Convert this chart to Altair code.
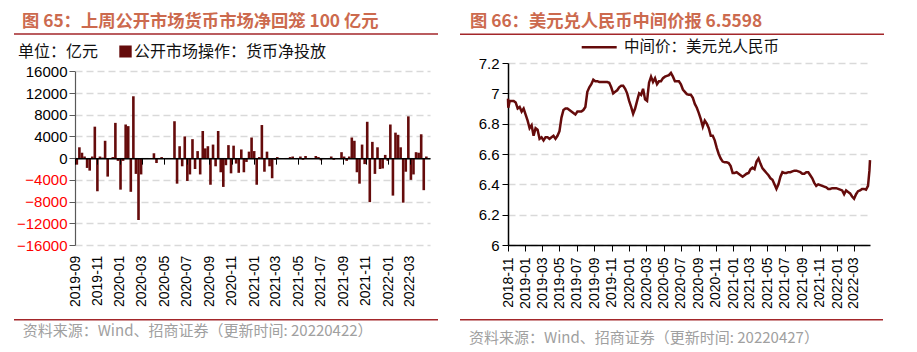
import altair as alt
import pandas as pd

# ---------------- data: left panel (weekly OMO net injection, 亿元) ----------------
omo_first_week = "2019-09-06"
omo_net = [
    -1200, 2000, 1000, 300, -1800, -2300, 300, 5800, -6100, 300,
    100, 3200, -3400, 0, 200, 6500, -500, -5800, -500, 6200,
    5900, -6200, 11400, -2900, -11400, -3000, 0, 0, 0, 0,
    900, -900, 0, 200, 0, 0, 0, 0, 6800, -4700,
    2200, -1500, 4000, -4200, -3000, 3500, -2000, 1300, -3000, 5000,
    1800, 2200, -4900, 2500, -1500, 5000, -2600, -5300, -1300, 2400,
    -2800, 2300, -1000, -2700, 1600, -2600, -700, 1200, 3800, 1300,
    -4900, 200, 6100, -2500, 1200, -1500, -3700, -300, 200, 0,
    0, 0, 0, 200, 300, 0, 0, 300, -300, 400,
    0, 0, 0, 400, 200, -400, 0, 0, 0, 300,
    -300, 0, 0, 1100, 300, -500, 300, 3800, 3200, -2600,
    -4700, 2500, -1100, 6700, -8100, 3000, -2900, 2000, -2000, -1900,
    600, -500, 6200, -6900, 4700, 4300, 2000, -8200, -2500, 7700,
    -4000, -3000, 1100, 1000, 4400, -5900, 300, -100,
]
omo_ticks_y = [-16000, -12000, -8000, -4000, 0, 4000, 8000, 12000, 16000]

# ---------------- data: right panel (USD/CNY central parity) ----------------
fx_head_dates = ["2018-11-01", "2018-11-02"]
fx_head = [6.965, 6.905]
fx_weekly_first = "2018-11-07"
fx_weekly = [
    6.95, 6.95, 6.95, 6.94, 6.90, 6.91, 6.88, 6.90, 6.86, 6.82,
    6.77, 6.79, 6.72, 6.77, 6.76, 6.70, 6.71, 6.69, 6.71, 6.71,
    6.70, 6.71, 6.72, 6.70, 6.72, 6.75, 6.84, 6.89, 6.90, 6.90,
    6.89, 6.88, 6.87, 6.86, 6.88, 6.88, 6.88, 6.89, 6.91, 7.01,
    7.04, 7.06, 7.09, 7.08, 7.08, 7.075, 7.075, 7.075, 7.075, 7.075,
    7.07, 7.04, 7.00, 7.01, 7.02, 7.04, 7.05, 7.05, 7.03, 7.00,
    6.95, 6.91, 6.865, 6.90, 6.95, 7.00, 6.99, 7.03, 6.96, 6.95,
    7.07, 7.11, 7.075, 7.10, 7.06, 7.08, 7.08, 7.10, 7.11, 7.115,
    7.12, 7.135, 7.11, 7.08, 7.08, 7.08, 7.06, 7.025, 7.01, 6.995,
    6.99, 6.99, 6.97, 6.93, 6.905, 6.87, 6.83, 6.78, 6.82, 6.80,
    6.77, 6.72, 6.72, 6.69, 6.64, 6.60, 6.57, 6.55, 6.545, 6.545,
    6.54, 6.52, 6.475, 6.475, 6.48, 6.47, 6.46, 6.45, 6.46, 6.47,
    6.475, 6.50, 6.51, 6.50, 6.55, 6.57, 6.535, 6.505, 6.49, 6.475,
    6.46, 6.44, 6.43, 6.40, 6.37, 6.40, 6.45, 6.48, 6.475, 6.475,
    6.48, 6.48, 6.485, 6.49, 6.49, 6.485, 6.48, 6.47, 6.47, 6.48,
    6.48, 6.46, 6.44, 6.41, 6.39, 6.40, 6.395, 6.39, 6.385, 6.38,
    6.37, 6.37, 6.375, 6.375, 6.375, 6.37, 6.365, 6.36, 6.335, 6.36,
    6.35, 6.34, 6.32, 6.305, 6.335, 6.355, 6.36, 6.37, 6.37, 6.365,
    6.39,
]
fx_tail_dates = ["2022-04-22", "2022-04-25", "2022-04-27"]
fx_tail = [6.43, 6.49, 6.5598]
fx_ticks_y = [6.0, 6.2, 6.4, 6.6, 6.8, 7.0, 7.2]

# ---------------- texts ----------------
title_left = "图 65：上周公开市场货币市场净回笼 100 亿元"
title_right = "图 66：美元兑人民币中间价报 6.5598"
unit_left = "单位：亿元"
legend_left = "公开市场操作：货币净投放"
legend_right = "中间价：美元兑人民币"
source_left = "资料来源：Wind、招商证券（更新时间: 20220422）"
source_right = "资料来源：Wind、招商证券（更新时间: 20220427）"

# ---------------- styles ----------------
FONT_CJK = "Noto Sans CJK SC"
FONT_NUM = "Liberation Sans"
TITLE_COLOR = "#CC6A4E"
RULE_COLOR = "#A3262A"
DARK_RED = "#650B0B"
GRID = "#D9D9D9"
SRC_GRAY = "#A0A0A0"

omo_df = pd.DataFrame({
    "date": pd.date_range(omo_first_week, periods=len(omo_net), freq="7D"),
    "net": omo_net,
})
fx_dates = (
    list(pd.to_datetime(fx_head_dates))
    + list(pd.date_range(fx_weekly_first, periods=len(fx_weekly), freq="7D"))
    + list(pd.to_datetime(fx_tail_dates))
)
fx_df = pd.DataFrame({"date": fx_dates, "rate": fx_head + fx_weekly + fx_tail})

one = pd.DataFrame({"k": [0]})


def txt(text, x, y, size=15.5, color="#111111", weight="normal", font=FONT_CJK):
    return alt.Chart(one).mark_text(
        align="left", baseline="middle", fontSize=size, font=font,
        color=color, fontWeight=weight,
    ).encode(x=alt.value(x), y=alt.value(y), text=alt.value(text))


def hline(x1, x2, y, color, w):
    return alt.Chart(one).mark_rule(color=color, strokeWidth=w).encode(
        x=alt.value(x1), x2=alt.value(x2), y=alt.value(y)
    )


W_L, W_R, H = 355, 362, 182

# ---------------- left panel ----------------
frame = alt.Chart(one).mark_rect(opacity=0).encode(
    x=alt.value(-75), x2=alt.value(842), y=alt.value(-62.5), y2=alt.value(289.5)
)

x_left = alt.X(
    "date:T",
    scale=alt.Scale(domain=[alt.DateTime(year=2019, month=9, date=1),
                            alt.DateTime(year=2022, month=4, date=25)],
                    nice=False, padding=0),
    axis=alt.Axis(
        title=None, format="%Y-%m", tickCount={"interval": "month", "step": 2},
        labelAngle=-90, labelFont=FONT_NUM, labelFontSize=14, labelColor="#000000",
        labelPadding=91, tickSize=6, tickColor="#000000", tickWidth=1,
        domainColor="#000000", domainWidth=1.5, offset=-86.85, grid=False,
        labelOverlap=False, labelBound=False, zindex=1,
    ),
)
y_left = alt.Y(
    "net:Q",
    scale=alt.Scale(domain=[-16000, 16000], range=[H, 8.3], nice=False, zero=False),
    axis=alt.Axis(
        title=None, values=omo_ticks_y, format="d", labelFont=FONT_NUM,
        labelFontSize=15,
        labelColor={"condition": {"test": "datum.value < 0", "value": "#FF0000"},
                    "value": "#000000"},
        labelPadding=2, tickSize=6, tickColor="#595959", domainColor="#595959",
        domainWidth=1.2, grid=True, gridColor=GRID, gridDash=[7, 4], gridWidth=1.3,
    ),
)
bars = alt.Chart(omo_df).mark_bar(size=2.6, color=DARK_RED).encode(x=x_left, y=y_left)

left = alt.layer(
    frame,
    bars,
    txt(title_left, -53, -41, size=17.3, color=TITLE_COLOR, weight="bold"),
    hline(-61, 363, -29, RULE_COLOR, 1.5),
    txt(unit_left, -57, -11.5, size=16),
    alt.Chart(one).mark_rect(color=DARK_RED).encode(
        x=alt.value(44.3), x2=alt.value(56.7), y=alt.value(-17.5), y2=alt.value(-5.5)
    ),
    txt(legend_left, 59, -11.5, size=16),
    hline(-61, 363, 256.8, RULE_COLOR, 1.5),
    txt(source_left, -52.3, 267.5, size=15, color=SRC_GRAY),
).properties(width=W_L, height=H)

# ---------------- right panel ----------------
x_right = alt.X(
    "date:T",
    scale=alt.Scale(domain=[alt.DateTime(year=2018, month=11, date=1),
                            alt.DateTime(year=2022, month=4, date=27)],
                    nice=False, padding=0),
    axis=alt.Axis(
        title=None, format="%Y-%m", tickCount={"interval": "month", "step": 2},
        labelAngle=-90, labelFont=FONT_NUM, labelFontSize=14, labelColor="#000000",
        labelPadding=6, tickSize=6, tickColor="#000000", domainColor="#000000",
        domainWidth=1.5, grid=False, labelOverlap=False, labelBound=False, zindex=1,
    ),
)
y_right = alt.Y(
    "rate:Q",
    scale=alt.Scale(domain=[6, 7.2], nice=False, zero=False),
    axis=alt.Axis(
        title=None, values=fx_ticks_y, format="~g", labelFont=FONT_NUM,
        labelFontSize=15, labelColor="#000000", labelPadding=3, tickSize=6,
        tickColor="#000000", domainColor="#000000", domainWidth=1.5,
        grid=True, gridColor=GRID, gridDash=[7, 4], gridWidth=1.3,
    ),
)
line = alt.Chart(fx_df).mark_line(color=DARK_RED, strokeWidth=2.5).encode(x=x_right, y=y_right)

right = alt.layer(
    line,
    txt(title_right, -38, -41, size=17.3, color=TITLE_COLOR, weight="bold"),
    hline(-48, 376, -28.8, RULE_COLOR, 1.5),
    hline(73.7, 108.7, -15.8, DARK_RED, 2.5),
    txt(legend_right, 116, -16),
    hline(-48, 375, 256.8, RULE_COLOR, 1.5),
    txt(source_right, -39, 274.8, size=15, color=SRC_GRAY),
).properties(width=W_R, height=H)

chart = alt.hconcat(left, right, spacing=78, bounds="flush").properties(
    padding=0, background="white"
).configure_view(stroke=None)

chart.save("out.html", embed_options={"renderer": "svg", "actions": False})
